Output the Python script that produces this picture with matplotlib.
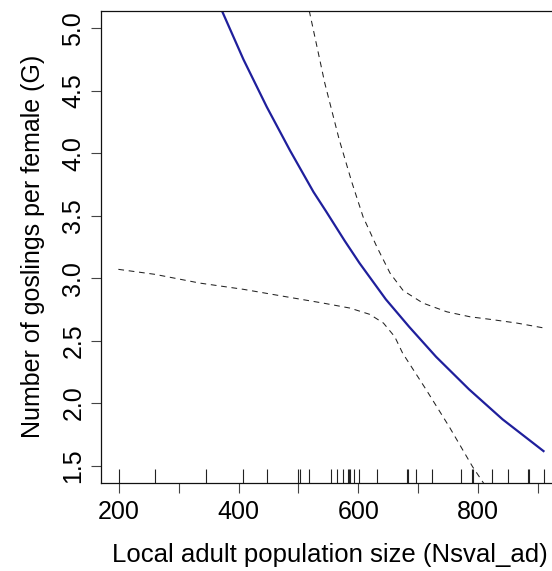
import matplotlib
matplotlib.use("Agg")
import matplotlib.pyplot as plt

# fitted curve (solid blue)
fit_x = [372, 408, 447, 486, 525, 546, 577, 602, 646, 685, 730, 785, 841, 911]
fit_g = [5.14, 4.75, 4.37, 4.02, 3.69, 3.535, 3.30, 3.12, 2.83, 2.61, 2.37, 2.11, 1.87, 1.61]

# upper confidence band (dashed)
up_x = [518, 544, 568, 589, 608, 631, 653, 675, 708, 748, 787, 820, 865, 911]
up_g = [5.14, 4.56, 4.11, 3.77, 3.49, 3.25, 3.04, 2.90, 2.80, 2.73, 2.69, 2.67, 2.64, 2.60]

# lower confidence band (dashed)
lo_x = [199, 260, 335, 408, 480, 541, 586, 619, 642, 661, 674, 713, 752, 791, 812]
lo_g = [3.07, 3.03, 2.96, 2.91, 2.85, 2.80, 2.76, 2.71, 2.64, 2.53, 2.40, 2.11, 1.81, 1.49, 1.34]

# rug of observed Nsval_ad values
rug_x = [200, 260, 346, 408, 448, 500, 502, 517, 554, 564, 574, 582, 584, 586,
         592, 601, 632, 681, 683, 697, 723, 772, 790, 792, 823, 850, 884, 886, 910]

x_ticks = [200, 300, 400, 500, 600, 700, 800, 900]
x_ticklabels = ["200", "", "400", "", "600", "", "800", ""]
y_ticks = [1.5, 2.0, 2.5, 3.0, 3.5, 4.0, 4.5, 5.0]

plt.rcParams["font.family"] = ["Liberation Sans", "DejaVu Sans"]

fig = plt.figure(figsize=(5.52, 5.71), dpi=100)
# plot box runs past the right edge of the image, like the cropped original
ax = fig.add_axes([0.183, 0.1541, 0.878, 0.8272])

ax.plot(fit_x, fit_g, color="#1f1f9c", lw=1.6, solid_capstyle="butt")
ax.plot(up_x, up_g, color="#222222", lw=0.75, dashes=(5.5, 4.5))
ax.plot(lo_x, lo_g, color="#222222", lw=0.75, dashes=(5.5, 4.5))

ax.vlines(rug_x, 0, 0.03, transform=ax.get_xaxis_transform(),
          color="#222222", lw=0.8)

ax.set_xlim(170, 980)
ax.set_ylim(1.36, 5.14)

ax.set_xticks(x_ticks)
ax.set_xticklabels(x_ticklabels)
ax.set_yticks(y_ticks)
ax.set_yticklabels([f"{v:.1f}" for v in y_ticks])

ax.tick_params(axis="both", direction="out", length=7.2, width=0.8,
               color="#444444", labelsize=18)
ax.tick_params(axis="x", pad=5)
ax.tick_params(axis="y", pad=4, labelrotation=90)
for lab in ax.get_yticklabels():
    lab.set_va("center")

for side in ["left", "bottom", "top"]:
    ax.spines[side].set_linewidth(0.9)
    ax.spines[side].set_color("#111111")
ax.spines["right"].set_visible(False)

ax.set_xlabel("Local adult population size (Nsval_ad)", fontsize=18.5)
ax.xaxis.set_label_coords(0.4725, -0.128)
ax.set_ylabel("Number of goslings per female (G)", fontsize=18, labelpad=12)

fig.savefig("out.png", dpi=100)
